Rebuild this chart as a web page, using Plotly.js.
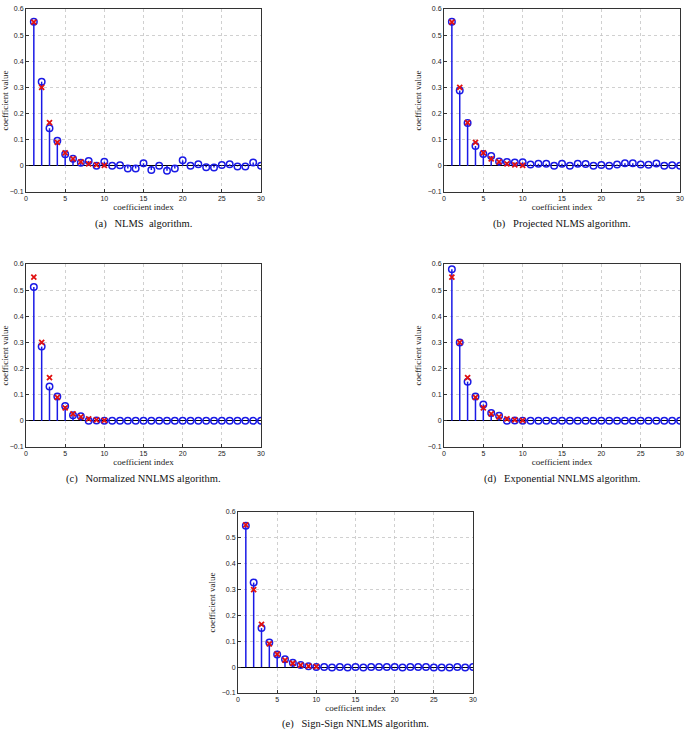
<!DOCTYPE html>
<html>
<head>
<meta charset="utf-8">
<script src="https://cdn.plot.ly/plotly-3.0.1.min.js"></script>
<style>html,body{margin:0;padding:0;background:#fff;}#chart{width:693px;height:736px;}</style>
</head>
<body>
<div id="chart"></div>
<script>
// coefficient indices
const indices = [1,2,3,4,5,6,7,8,9,10,11,12,13,14,15,16,17,18,19,20,21,22,23,24,25,26,27,28,29,30];
// true (optimal) coefficients, red crosses, indices 1..10
const trueIdx = [1,2,3,4,5,6,7,8,9,10];
const trueVals = [0.55,0.30,0.165,0.09,0.05,0.027,0.015,0.008,0.004,0.002];
// estimated coefficients
const nlms = [0.551,0.322,0.144,0.096,0.044,0.027,0.012,0.019,0.0,0.016,0.0,0.002,-0.010,-0.010,0.010,-0.016,0.0,-0.019,-0.010,0.021,0.0,0.006,-0.005,-0.006,0.003,0.006,-0.002,-0.002,0.013,0.0];
const projNlms = [0.551,0.288,0.164,0.076,0.045,0.038,0.017,0.015,0.013,0.014,0.005,0.008,0.008,0.0,0.008,0.0,0.008,0.007,0.0,0.003,0.0,0.005,0.010,0.010,0.005,0.004,0.009,0.0,0.002,0.0];
const normNnlms = [0.512,0.284,0.131,0.093,0.057,0.021,0.018,0.0,0.001,0.0,0,0,0,0,0,0,0,0,0,0,0,0,0,0,0,0,0,0,0,0];
const expNnlms = [0.580,0.300,0.150,0.093,0.063,0.030,0.020,0.0,0.001,0.0,0,0,0,0,0,0,0,0,0,0,0,0,0,0,0,0,0,0,0,0];
const ssNnlms = [0.547,0.327,0.151,0.095,0.049,0.031,0.017,0.008,0.003,0.001,0.001,-0.001,0.001,-0.001,0.001,-0.001,0.001,0.001,0.001,0.001,-0.001,0.001,0.001,0.001,-0.001,-0.001,-0.001,0.001,-0.001,0.001];
const captions = ["(a)   NLMS  algorithm.","(b)   Projected NLMS algorithm.","(c)   Normalized NNLMS algorithm.","(d)   Exponential NNLMS algorithm.","(e)   Sign-Sign NNLMS algorithm."];
const xTicks = [0,5,10,15,20,25,30];
const yTicks = [-0.1,0,0.1,0.2,0.3,0.4,0.5,0.6];
const yTickText = ["\u22120.1","0","0.1","0.2","0.3","0.4","0.5","0.6"];
const xTitle = "coefficient index";
const yTitle = "coefficient value";

const series = [nlms, projNlms, normNnlms, expNnlms, ssNnlms];
const W = 693, H = 736;
// plot areas in pixels [left, right, top, bottom]
const boxes = [[26,261,9,192],[444,680,9,192],[26,261,264,447],[444,680,264,447],[238,473,512,693]];
const captionY = [224,224,479,479,724];

const blue = '#1a1ae6';
const red = '#e01010';
const traces = [];
const layout = {
  width: W, height: H,
  margin: {l:0,r:0,t:0,b:0},
  paper_bgcolor: '#fff', plot_bgcolor: '#fff',
  showlegend: false,
  annotations: []
};
const serif = 'Liberation Serif, Times New Roman, serif';
const sans = 'Liberation Sans, Arial, sans-serif';

series.forEach((vals, i) => {
  const n = i + 1;
  const xa = n === 1 ? 'x' : 'x' + n;
  const ya = n === 1 ? 'y' : 'y' + n;
  const sx = [], sy = [];
  indices.forEach((k, j) => { sx.push(k, k, null); sy.push(0, vals[j], null); });
  traces.push({x: sx, y: sy, xaxis: xa, yaxis: ya, mode: 'lines', line: {color: blue, width: 1.5}, hoverinfo: 'skip'});
  traces.push({x: indices, y: vals, xaxis: xa, yaxis: ya, mode: 'markers',
    marker: {symbol: 'circle-open', size: 6.5, color: blue, line: {width: 1.5, color: blue}}});
  traces.push({x: trueIdx, y: trueVals, xaxis: xa, yaxis: ya, mode: 'markers',
    marker: {symbol: 'x-thin-open', size: 5, color: red, line: {width: 1.8, color: red}}});
  const b = boxes[i];
  const axBase = {
    showline: true, mirror: true, linecolor: '#333', linewidth: 1,
    ticks: 'inside', ticklen: 3, tickcolor: '#333',
    showgrid: true, gridcolor: '#c4c4c4', griddash: 'dot', gridwidth: 0.8,
    tickfont: {family: sans, size: 7, color: '#222'},
    fixedrange: true
  };
  layout['xaxis' + (n === 1 ? '' : n)] = Object.assign({}, axBase, {
    domain: [b[0]/W, b[1]/W], anchor: ya, range: [0, 30],
    tickmode: 'array', tickvals: xTicks, zeroline: false,
    title: {text: xTitle, font: {family: serif, size: 9, color: '#222'}, standoff: 2}
  });
  layout['yaxis' + (n === 1 ? '' : n)] = Object.assign({}, axBase, {
    domain: [1 - b[3]/H, 1 - b[2]/H], anchor: xa, range: [-0.1, 0.6],
    tickmode: 'array', tickvals: yTicks, ticktext: yTickText,
    zeroline: true, zerolinecolor: '#000', zerolinewidth: 1,
    title: {text: yTitle, font: {family: serif, size: 9, color: '#222'}, standoff: 4}
  });
  layout.annotations.push({
    text: captions[i], xref: 'paper', yref: 'paper',
    x: (b[0] + b[1]) / 2 / W, y: 1 - captionY[i] / H,
    xanchor: 'center', yanchor: 'middle', showarrow: false,
    font: {family: serif, size: 10.5, color: '#111'}
  });
});

Plotly.newPlot('chart', traces, layout, {staticPlot: true, displayModeBar: false});
</script>
</body>
</html>
